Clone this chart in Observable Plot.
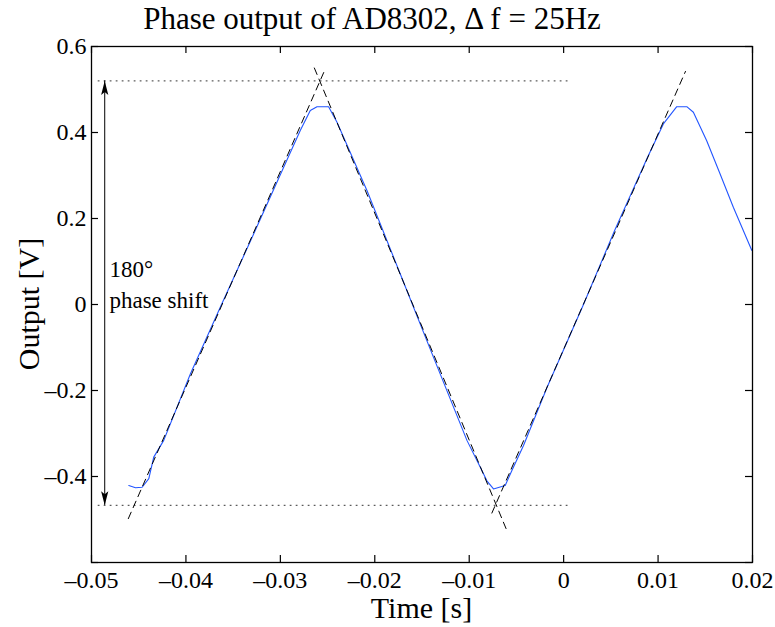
<!DOCTYPE html>
<html><head><meta charset="utf-8">
<script src="https://cdn.jsdelivr.net/npm/d3@7"></script>
<script src="https://cdn.jsdelivr.net/npm/@observablehq/plot@0.6"></script>
<style>body{margin:0;background:#fff}</style>
</head><body><div id="chart"></div>
<script>
// ---- data ----
const xTicks = [-0.05, -0.04, -0.03, -0.02, -0.01, 0, 0.01, 0.02];
const xTickLabels = ["–0.05", "–0.04", "–0.03", "–0.02", "–0.01", "0", "0.01", "0.02"];
const yTicks = [-0.6, -0.4, -0.2, 0, 0.2, 0.4, 0.6];
const yTickLabels = ["", "–0.4", "–0.2", "0", "0.2", "0.4", "0.6"];

// measured AD8302 phase output (blue)
const blueT = [-0.04605, -0.04534, -0.04464, -0.04393, -0.04341, -0.04235, -0.03952, -0.03635, -0.03283, -0.02965,
  -0.02788, -0.02683, -0.02612, -0.02489, -0.02400, -0.02083, -0.01730, -0.01378, -0.01024, -0.00884,
  -0.00813, -0.00743, -0.00619, -0.00548, -0.00425, -0.00174, 0.00210, 0.00540, 0.00890, 0.01056,
  0.01198, 0.01304, 0.01374, 0.01515, 0.01656, 0.01797, 0.01992];
const blueV = [-0.421, -0.426, -0.425, -0.405, -0.355, -0.316, -0.161, -0.006, 0.164, 0.319,
  0.405, 0.451, 0.460, 0.460, 0.424, 0.265, 0.071, -0.123, -0.316, -0.378,
  -0.410, -0.429, -0.421, -0.386, -0.328, -0.192, 0.000, 0.172, 0.343, 0.420,
  0.460, 0.460, 0.447, 0.381, 0.304, 0.226, 0.126];

// dashed linear fits (start, end)
const fitId = ["A", "A", "B", "B", "C", "C"];
const fitT = [-0.0461, -0.0252, -0.0264, -0.0061, -0.0076, 0.0129];
const fitV = [-0.498, 0.550, 0.550, -0.521, -0.485, 0.542];

// dotted reference levels
const levelV = [0.52, -0.467];
const levelT = [-0.0493, 0.0005];

// double arrow
const arrowT = -0.0486;
const arrowTop = 0.52, arrowBottom = -0.467;
const annotT = -0.0481;
const annotLines = ["180°", "phase shift"];
const annotV = [0.065, -0.007];

const titleText = "Phase output of AD8302, Δ f = 25Hz";
const xLabel = "Time [s]";
const yLabel = "Output [V]";

// ---- build ----
const W = 775, H = 627, mL = 91, mR = 23, mT = 46, mB = 65;
const fw = W - mL - mR, fh = H - mT - mB;
const font = "'Liberation Serif', 'Times New Roman', serif";

const blue = blueT.map((t, i) => ({t, v: blueV[i]}));
const fits = fitT.map((t, i) => ({t, v: fitV[i], id: fitId[i]}));
const levels = [];
levelV.forEach((v, k) => levelT.forEach(t => levels.push({t, v, id: k})));
const arrowTips = [{t: arrowT, v: arrowTop, dir: "up"}, {t: arrowT, v: arrowBottom, dir: "down"}];
const upHead = {draw(c) { c.moveTo(0, 0); c.lineTo(3.6, 14); c.lineTo(0, 11); c.lineTo(-3.6, 14); c.closePath(); }};
const downHead = {draw(c) { c.moveTo(0, 0); c.lineTo(3.6, -14); c.lineTo(0, -11); c.lineTo(-3.6, -14); c.closePath(); }};

const plot = Plot.plot({
  width: W, height: H,
  marginLeft: mL, marginRight: mR, marginTop: mT, marginBottom: mB,
  style: {fontFamily: font, background: "white", color: "black", overflow: "visible"},
  x: {domain: [-0.05, 0.02], label: null},
  y: {domain: [-0.6, 0.6], label: null},
  marks: [
    Plot.axisX(xTicks, {tickSize: 0, tickPadding: 8, fontSize: 24, fontFamily: font, fill: "black",
      tickFormat: d => xTickLabels[xTicks.indexOf(d)], label: null}),
    Plot.axisY(yTicks, {tickSize: 0, tickPadding: 5, fontSize: 24, fontFamily: font, fill: "black",
      tickFormat: d => yTickLabels[yTicks.indexOf(d)], label: null}),
    Plot.tickX(xTicks, {x: d => d, insetTop: fh - 7, stroke: "black", strokeWidth: 1.2}),
    Plot.tickX(xTicks, {x: d => d, insetBottom: fh - 7, stroke: "black", strokeWidth: 1.2}),
    Plot.tickY(yTicks, {y: d => d, insetRight: fw - 7, stroke: "black", strokeWidth: 1.2}),
    Plot.tickY(yTicks, {y: d => d, insetLeft: fw - 7, stroke: "black", strokeWidth: 1.2}),
    Plot.line(levels, {x: "t", y: "v", z: "id", stroke: "#333", strokeWidth: 1, strokeDasharray: "1,5"}),
    Plot.line(blue, {x: "t", y: "v", stroke: "#2255ff", strokeWidth: 1.1}),
    Plot.line(fits, {x: "t", y: "v", z: "id", stroke: "black", strokeWidth: 1, strokeDasharray: "7,5"}),
    Plot.ruleX([arrowT], {x: d => d, y1: arrowTop, y2: arrowBottom, stroke: "black", strokeWidth: 1}),
    Plot.dot(arrowTips.filter(d => d.dir === "up"), {x: "t", y: "v", symbol: upHead, fill: "black", stroke: "none", r: 5}),
    Plot.dot(arrowTips.filter(d => d.dir === "down"), {x: "t", y: "v", symbol: downHead, fill: "black", stroke: "none", r: 5}),
    Plot.text(annotLines, {x: annotT, y: (d, i) => annotV[i], text: d => d, textAnchor: "start",
      fontSize: 23, fontFamily: font, fill: "black", lineAnchor: "bottom"}),
    Plot.frame({stroke: "black", strokeWidth: 1.3})
  ]
});
document.getElementById("chart").appendChild(plot);

const svg = d3.select(plot);
svg.append("text").attr("x", 372).attr("y", 29).attr("text-anchor", "middle")
  .attr("font-family", font).attr("font-size", 31).attr("fill", "black").text(titleText);
svg.append("text").attr("x", mL + fw / 2).attr("y", 618).attr("text-anchor", "middle")
  .attr("font-family", font).attr("font-size", 30).attr("fill", "black").text(xLabel);
svg.append("text").attr("transform", `translate(39,${mT + fh / 2}) rotate(-90)`).attr("text-anchor", "middle")
  .attr("font-family", font).attr("font-size", 30).attr("fill", "black").text(yLabel);
</script>
</body></html>
